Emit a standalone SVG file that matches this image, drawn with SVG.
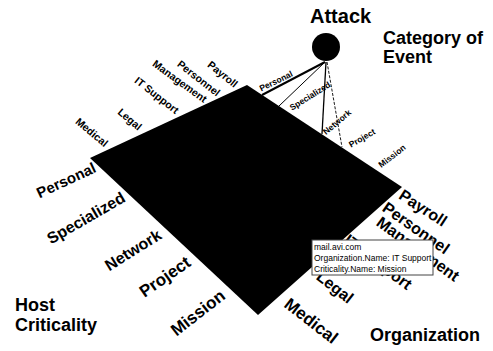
<svg xmlns="http://www.w3.org/2000/svg" width="493" height="351" viewBox="0 0 493 351">
<style>
text{font-family:"Liberation Sans",Arial,sans-serif;fill:#000;font-weight:bold}
.t{text-anchor:middle;dominant-baseline:central}
.ul{font-size:10.5px}
.cone{font-size:8.5px}
.bl{font-size:16px}
.br{font-size:16px}
.title{font-size:18px}
.tip{font-size:8.5px;font-weight:normal}
.c{stroke:#000;fill:none}
</style>
<rect width="493" height="351" fill="#fff"/>
<g id="plane"><polygon points="90,158 247,85 402,187 258,315" fill="#000"/></g>
<g id="connectors">
<line class="c" x1="325" y1="62" x2="262" y2="95" stroke-width="2"/>
<line class="c" x1="325" y1="62" x2="279" y2="106" stroke-width="1"/>
<line class="c" x1="326" y1="62" x2="322" y2="134" stroke-width="1.3"/>
<line class="c" x1="327" y1="62" x2="342" y2="147" stroke-width="0.9" stroke-dasharray="3,1.5"/>
</g>
<g id="attack"><circle cx="326" cy="47" r="14" fill="#000"/><text class="title" x="310" y="23" font-size="20" style="font-size:20px">Attack</text></g>
<g id="category-title"><text class="title" x="383" y="44">Category of</text><text class="title" x="383" y="63">Event</text></g>
<g id="host-title"><text class="title" x="15" y="311">Host</text><text class="title" x="15" y="331">Criticality</text></g>
<g id="org-title"><text class="title" x="370" y="341">Organization</text></g>
<g id="org-labels-top">
<text class="t ul" transform="translate(92,132) rotate(40)">Medical</text>
<text class="t ul" transform="translate(130,119) rotate(40)">Legal</text>
<text class="t ul" transform="translate(157,95) rotate(38)">IT Support</text>
<text class="t ul" transform="translate(180,81) rotate(36)">Management</text>
<text class="t ul" transform="translate(199,78) rotate(38)">Personnel</text>
<text class="t ul" transform="translate(223,74) rotate(39)">Payroll</text>
</g>
<g id="cone-labels">
<text class="t cone" transform="translate(276,81) rotate(-26)">Personal</text>
<text class="t cone" transform="translate(310,96) rotate(-32)">Specialized</text>
<text class="t cone" transform="translate(337,122) rotate(-40)">Network</text>
<text class="t cone" transform="translate(362,138) rotate(-30)">Project</text>
<text class="t cone" transform="translate(392,156) rotate(-38)">Mission</text>
</g>
<g id="crit-labels">
<text class="t bl" transform="translate(66,180) rotate(-25)" style="font-size:15px">Personal</text>
<text class="t bl" transform="translate(86,218) rotate(-30)">Specialized</text>
<text class="t bl" transform="translate(133,250) rotate(-32)">Network</text>
<text class="t bl" transform="translate(165,277) rotate(-35)" style="font-size:17px">Project</text>
<text class="t bl" transform="translate(198,313) rotate(-38)" style="font-size:17px">Mission</text>
</g>
<g id="org-labels-bottom">
<text class="t br" transform="translate(423,208) rotate(33)">Payroll</text>
<text class="t br" transform="translate(416,228) rotate(35)">Personnel</text>
<text class="t br" transform="translate(418,249) rotate(36)">Management</text>
<text class="t br" transform="translate(378,262) rotate(37)">IT Support</text>
<text class="t br" transform="translate(335,287) rotate(38)">Legal</text>
<text class="t br" transform="translate(311,321) rotate(38)" style="font-size:17px">Medical</text>
</g>
<g id="tooltip">
<rect x="312" y="240" width="121" height="35" fill="#fff" stroke="#444" stroke-width="1"/>
<text class="tip" x="314" y="250">mail.avi.com</text>
<text class="tip" x="314" y="261">Organization.Name: IT Support</text>
<text class="tip" x="314" y="272">Criticality.Name: Mission</text>
</g>
</svg>
